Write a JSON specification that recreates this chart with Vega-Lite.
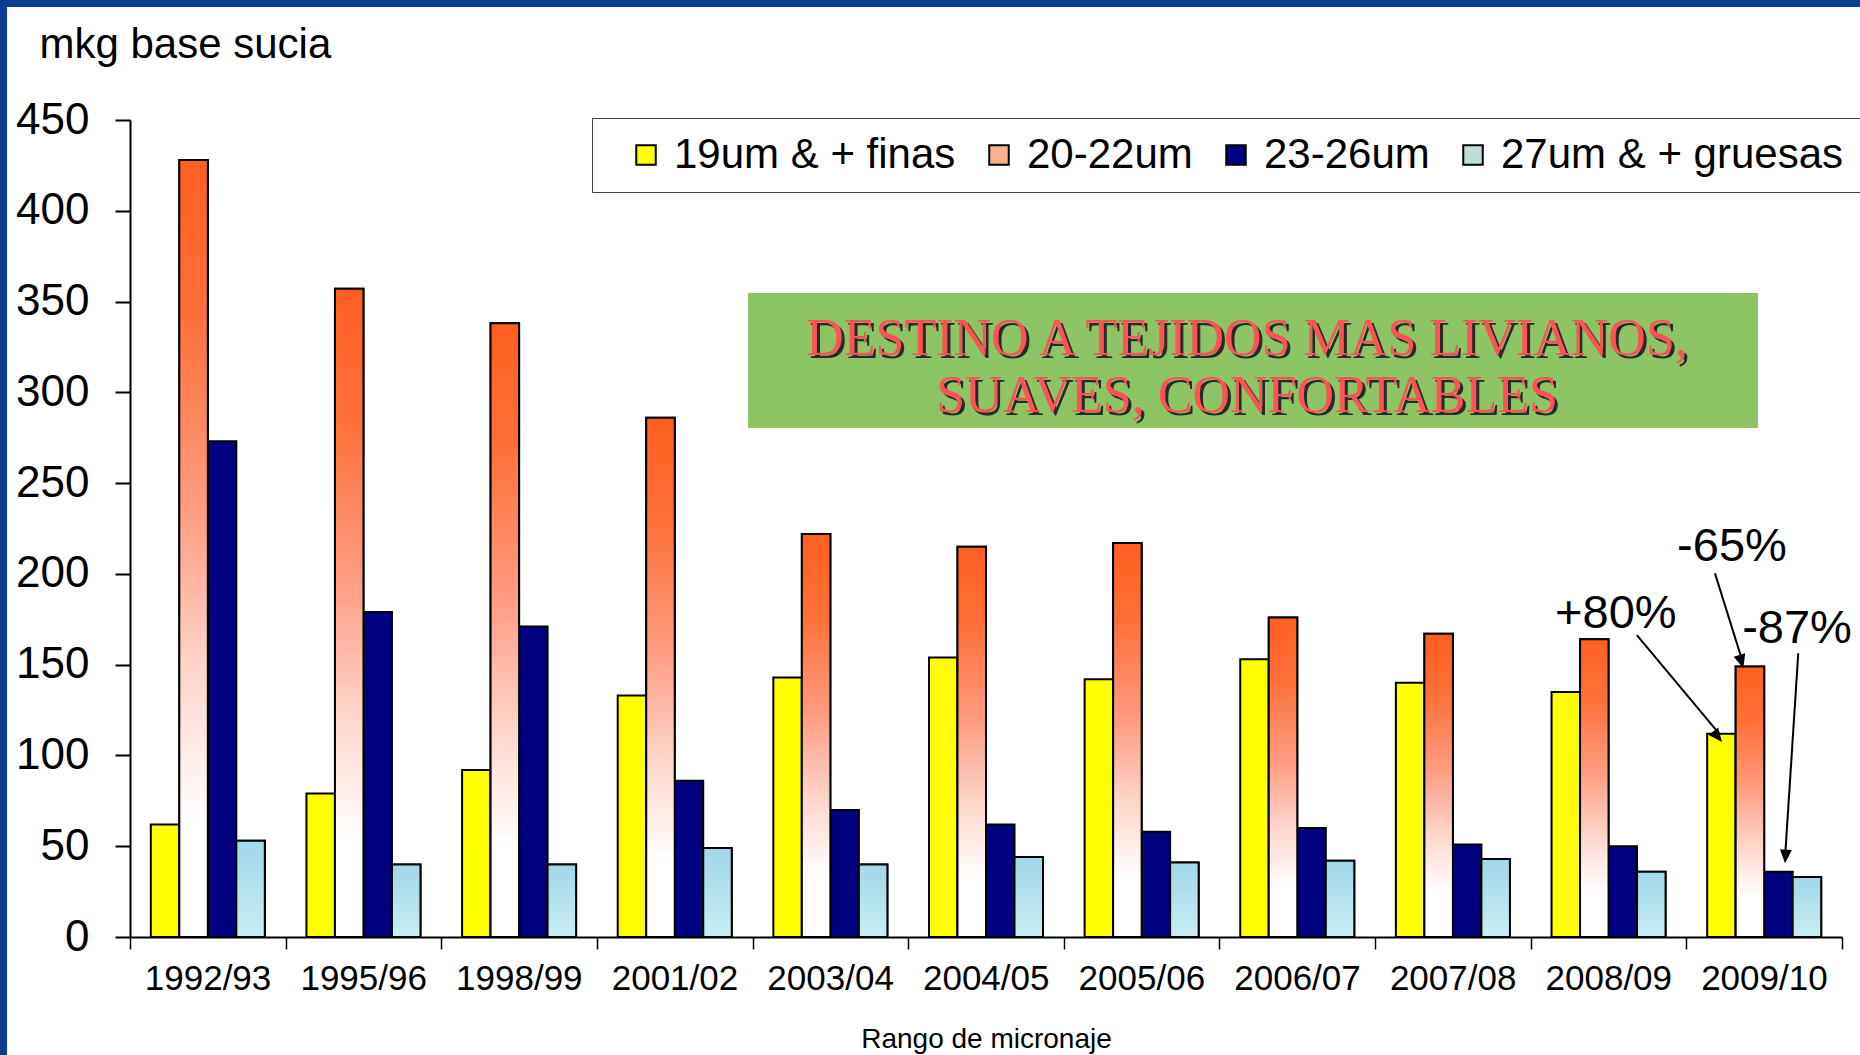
{
  "$schema": "https://vega.github.io/schema/vega-lite/v6.json",
  "width": 1712,
  "height": 817,
  "autosize": {"type": "none"},
  "padding": {"left": 130, "top": 120, "right": 18, "bottom": 118},
  "background": "white",
  "config": {
    "view": {"stroke": null},
    "font": "Liberation Sans",
    "axis": {"grid": false}
  },
  "data": {
    "values": [
      {"periodo": "1992/93", "serie": "19um & + finas", "valor": 62},
      {"periodo": "1992/93", "serie": "20-22um", "valor": 428},
      {"periodo": "1992/93", "serie": "23-26um", "valor": 273},
      {"periodo": "1992/93", "serie": "27um & + gruesas", "valor": 53},
      {"periodo": "1995/96", "serie": "19um & + finas", "valor": 79},
      {"periodo": "1995/96", "serie": "20-22um", "valor": 357},
      {"periodo": "1995/96", "serie": "23-26um", "valor": 179},
      {"periodo": "1995/96", "serie": "27um & + gruesas", "valor": 40},
      {"periodo": "1998/99", "serie": "19um & + finas", "valor": 92},
      {"periodo": "1998/99", "serie": "20-22um", "valor": 338},
      {"periodo": "1998/99", "serie": "23-26um", "valor": 171},
      {"periodo": "1998/99", "serie": "27um & + gruesas", "valor": 40},
      {"periodo": "2001/02", "serie": "19um & + finas", "valor": 133},
      {"periodo": "2001/02", "serie": "20-22um", "valor": 286},
      {"periodo": "2001/02", "serie": "23-26um", "valor": 86},
      {"periodo": "2001/02", "serie": "27um & + gruesas", "valor": 49},
      {"periodo": "2003/04", "serie": "19um & + finas", "valor": 143},
      {"periodo": "2003/04", "serie": "20-22um", "valor": 222},
      {"periodo": "2003/04", "serie": "23-26um", "valor": 70},
      {"periodo": "2003/04", "serie": "27um & + gruesas", "valor": 40},
      {"periodo": "2004/05", "serie": "19um & + finas", "valor": 154},
      {"periodo": "2004/05", "serie": "20-22um", "valor": 215},
      {"periodo": "2004/05", "serie": "23-26um", "valor": 62},
      {"periodo": "2004/05", "serie": "27um & + gruesas", "valor": 44},
      {"periodo": "2005/06", "serie": "19um & + finas", "valor": 142},
      {"periodo": "2005/06", "serie": "20-22um", "valor": 217},
      {"periodo": "2005/06", "serie": "23-26um", "valor": 58},
      {"periodo": "2005/06", "serie": "27um & + gruesas", "valor": 41},
      {"periodo": "2006/07", "serie": "19um & + finas", "valor": 153},
      {"periodo": "2006/07", "serie": "20-22um", "valor": 176},
      {"periodo": "2006/07", "serie": "23-26um", "valor": 60},
      {"periodo": "2006/07", "serie": "27um & + gruesas", "valor": 42},
      {"periodo": "2007/08", "serie": "19um & + finas", "valor": 140},
      {"periodo": "2007/08", "serie": "20-22um", "valor": 167},
      {"periodo": "2007/08", "serie": "23-26um", "valor": 51},
      {"periodo": "2007/08", "serie": "27um & + gruesas", "valor": 43},
      {"periodo": "2008/09", "serie": "19um & + finas", "valor": 135},
      {"periodo": "2008/09", "serie": "20-22um", "valor": 164},
      {"periodo": "2008/09", "serie": "23-26um", "valor": 50},
      {"periodo": "2008/09", "serie": "27um & + gruesas", "valor": 36},
      {"periodo": "2009/10", "serie": "19um & + finas", "valor": 112},
      {"periodo": "2009/10", "serie": "20-22um", "valor": 149},
      {"periodo": "2009/10", "serie": "23-26um", "valor": 36},
      {"periodo": "2009/10", "serie": "27um & + gruesas", "valor": 33}
    ]
  },
  "layer": [
    {
      "data": {"values": [{}]},
      "mark": {"type": "rect", "fill": "#0b3d8f"},
      "encoding": {
        "x": {"datum": "1992/93", "bandPosition": -0.87},
        "x2": {"datum": "1992/93", "bandPosition": -0.79},
        "y": {"datum": 520},
        "y2": {"datum": -70}
      }
    },
    {
      "data": {"values": [{}]},
      "mark": {"type": "rect", "fill": "#0b3d8f"},
      "encoding": {
        "x": {"datum": "1992/93", "bandPosition": -0.87},
        "x2": {"datum": "2009/10", "bandPosition": 1.15},
        "y": {"datum": 520},
        "y2": {"datum": 512.3}
      }
    },
    {
      "mark": {"type": "bar", "stroke": "black", "strokeWidth": 2},
      "encoding": {
        "x": {
          "field": "periodo",
          "type": "nominal",
          "sort": null,
          "scale": {
            "domain": ["1992/93", "1995/96", "1998/99", "2001/02", "2003/04", "2004/05", "2005/06", "2006/07", "2007/08", "2008/09", "2009/10"],
            "paddingInner": 0,
            "paddingOuter": 0
          },
          "axis": {
            "title": "Rango de micronaje",
            "labelAngle": 0,
            "labelFont": "Liberation Sans",
            "labelFontSize": 35,
            "labelColor": "black",
            "labelPadding": 29,
            "labelOffset": 63,
            "tickSize": 12,
            "tickWidth": 1.5,
            "tickColor": "black",
            "domainColor": "black",
            "domainWidth": 2,
            "tickBand": "extent",
            "titleFont": "Liberation Sans",
            "titleFontSize": 28,
            "titleFontWeight": "normal",
            "titleColor": "black",
            "titlePadding": 29
          }
        },
        "xOffset": {
          "field": "serie",
          "type": "nominal",
          "scale": {"domain": ["19um & + finas", "20-22um", "23-26um", "27um & + gruesas"], "paddingInner": 0, "paddingOuter": 0.73}
        },
        "y": {
          "field": "valor",
          "type": "quantitative",
          "scale": {"domain": [0, 450], "nice": false},
          "axis": {
            "title": "mkg base sucia",
            "values": [0, 50, 100, 150, 200, 250, 300, 350, 400, 450],
            "labelFont": "Liberation Sans",
            "labelFontSize": 44,
            "labelColor": "black",
            "labelPadding": 26,
            "tickSize": 15,
            "tickWidth": 2,
            "tickColor": "black",
            "domainColor": "black",
            "domainWidth": 2,
            "titleAngle": 0,
            "titleAlign": "left",
            "titleBaseline": "alphabetic",
            "titleX": -91,
            "titleY": -63,
            "titleFont": "Liberation Sans",
            "titleFontSize": 42,
            "titleFontWeight": "normal",
            "titleColor": "black"
          }
        },
        "color": {
          "field": "serie",
          "type": "nominal",
          "scale": {
            "domain": ["19um & + finas", "20-22um", "23-26um", "27um & + gruesas"],
            "range": ["#ffff00", "#f9b08f", "#000080", "#c2dcda"]
          },
          "legend": {
            "orient": "none",
            "legendX": 462,
            "legendY": -2,
            "direction": "horizontal",
            "columns": 4,
            "title": null,
            "symbolType": "square",
            "symbolSize": 380,
            "symbolStrokeColor": "black",
            "symbolStrokeWidth": 2,
            "symbolOffset": 17,
            "labelFont": "Liberation Sans",
            "labelFontSize": 42,
            "labelColor": "black",
            "labelLimit": 600,
            "labelOffset": 7,
            "columnPadding": 5,
            "padding": 16,
            "fillColor": "white",
            "strokeColor": "#444444"
          }
        }
      }
    },
    {
      "transform": [{"filter": "datum.serie === '20-22um'"}],
      "mark": {
        "type": "bar",
        "stroke": "black",
        "strokeWidth": 2,
        "color": {
          "gradient": "linear",
          "x1": 0, "y1": 0, "x2": 0, "y2": 1,
          "stops": [
            {"offset": 0, "color": "#ff5f1f"},
            {"offset": 0.2, "color": "#ff7038"},
            {"offset": 0.45, "color": "#ff9c80"},
            {"offset": 0.65, "color": "#ffd3c8"},
            {"offset": 0.85, "color": "#ffffff"},
            {"offset": 1, "color": "#ffffff"}
          ]
        }
      },
      "encoding": {
        "x": {"field": "periodo", "type": "nominal", "sort": null, "title": "Rango de micronaje"},
        "xOffset": {"field": "serie", "type": "nominal"},
        "y": {"field": "valor", "type": "quantitative", "title": "mkg base sucia"}
      }
    },
    {
      "transform": [{"filter": "datum.serie === '27um & + gruesas'"}],
      "mark": {
        "type": "bar",
        "stroke": "black",
        "strokeWidth": 2,
        "color": {
          "gradient": "linear",
          "x1": 0, "y1": 0, "x2": 0, "y2": 1,
          "stops": [
            {"offset": 0, "color": "#9fd8e8"},
            {"offset": 1, "color": "#c8eef3"}
          ]
        }
      },
      "encoding": {
        "x": {"field": "periodo", "type": "nominal", "sort": null, "title": "Rango de micronaje"},
        "xOffset": {"field": "serie", "type": "nominal"},
        "y": {"field": "valor", "type": "quantitative", "title": "mkg base sucia"}
      }
    },
    {
      "data": {"values": [{}]},
      "mark": {"type": "rect", "fill": "#8dc464"},
      "encoding": {
        "x": {"datum": "2003/04", "bandPosition": -0.029},
        "x2": {"datum": "2009/10", "bandPosition": 0.46},
        "y": {"datum": 354.7},
        "y2": {"datum": 280.3}
      }
    },
    {
      "data": {"values": [{}]},
      "mark": {
        "type": "text",
        "text": ["DESTINO A TEJIDOS MAS LIVIANOS,", "SUAVES, CONFORTABLES"],
        "font": "Liberation Serif",
        "fontSize": 52,
        "lineHeight": 57,
        "align": "center",
        "baseline": "alphabetic",
        "color": "#2a2a2a",
        "dx": 3,
        "dy": 3
      },
      "encoding": {
        "x": {"datum": "2006/07", "bandPosition": 0.177},
        "y": {"datum": 320.6}
      }
    },
    {
      "data": {"values": [{}]},
      "mark": {
        "type": "text",
        "text": ["DESTINO A TEJIDOS MAS LIVIANOS,", "SUAVES, CONFORTABLES"],
        "font": "Liberation Serif",
        "fontSize": 52,
        "lineHeight": 57,
        "align": "center",
        "baseline": "alphabetic",
        "color": "#ff5252"
      },
      "encoding": {
        "x": {"datum": "2006/07", "bandPosition": 0.177},
        "y": {"datum": 320.6}
      }
    },
    {
      "data": {"values": [{}]},
      "mark": {"type": "text", "text": "+80%", "fontSize": 47, "align": "center", "baseline": "alphabetic", "color": "black"},
      "encoding": {"x": {"datum": "2008/09", "bandPosition": 0.547}, "y": {"datum": 170.2}}
    },
    {
      "data": {"values": [{}]},
      "mark": {"type": "text", "text": "-65%", "fontSize": 47, "align": "center", "baseline": "alphabetic", "color": "black"},
      "encoding": {"x": {"datum": "2009/10", "bandPosition": 0.293}, "y": {"datum": 207.1}}
    },
    {
      "data": {"values": [{}]},
      "mark": {"type": "text", "text": "-87%", "fontSize": 47, "align": "center", "baseline": "alphabetic", "color": "black"},
      "encoding": {"x": {"datum": "2009/10", "bandPosition": 0.711}, "y": {"datum": 161.9}}
    },
    {
      "data": {"values": [{}]},
      "mark": {"type": "rule", "color": "black", "strokeWidth": 2},
      "encoding": {
        "x": {"datum": "2008/09", "bandPosition": 0.682},
        "y": {"datum": 166.3},
        "x2": {"datum": "2009/10", "bandPosition": 0.216},
        "y2": {"datum": 111.5}
      }
    },
    {
      "data": {"values": [{}]},
      "mark": {"type": "rule", "color": "black", "strokeWidth": 2},
      "encoding": {
        "x": {"datum": "2009/10", "bandPosition": 0.184},
        "y": {"datum": 200.3},
        "x2": {"datum": "2009/10", "bandPosition": 0.36},
        "y2": {"datum": 152}
      }
    },
    {
      "data": {"values": [{}]},
      "mark": {"type": "rule", "color": "black", "strokeWidth": 2},
      "encoding": {
        "x": {"datum": "2009/10", "bandPosition": 0.719},
        "y": {"datum": 156.3},
        "x2": {"datum": "2009/10", "bandPosition": 0.635},
        "y2": {"datum": 45}
      }
    },
    {
      "data": {"values": [{}]},
      "mark": {"type": "point", "shape": "M0,0L-1,-2.3L1,-2.3Z", "size": 144, "filled": true, "color": "black", "opacity": 1, "angle": -38.5},
      "encoding": {"x": {"datum": "2009/10", "bandPosition": 0.229}, "y": {"datum": 107.4}}
    },
    {
      "data": {"values": [{}]},
      "mark": {"type": "point", "shape": "M0,0L-1,-2.3L1,-2.3Z", "size": 144, "filled": true, "color": "black", "opacity": 1, "angle": -16.4},
      "encoding": {"x": {"datum": "2009/10", "bandPosition": 0.366}, "y": {"datum": 148.0}}
    },
    {
      "data": {"values": [{}]},
      "mark": {"type": "point", "shape": "M0,0L-1,-2.3L1,-2.3Z", "size": 144, "filled": true, "color": "black", "opacity": 1, "angle": 3.6},
      "encoding": {"x": {"datum": "2009/10", "bandPosition": 0.634}, "y": {"datum": 40.6}}
    }
  ]
}
